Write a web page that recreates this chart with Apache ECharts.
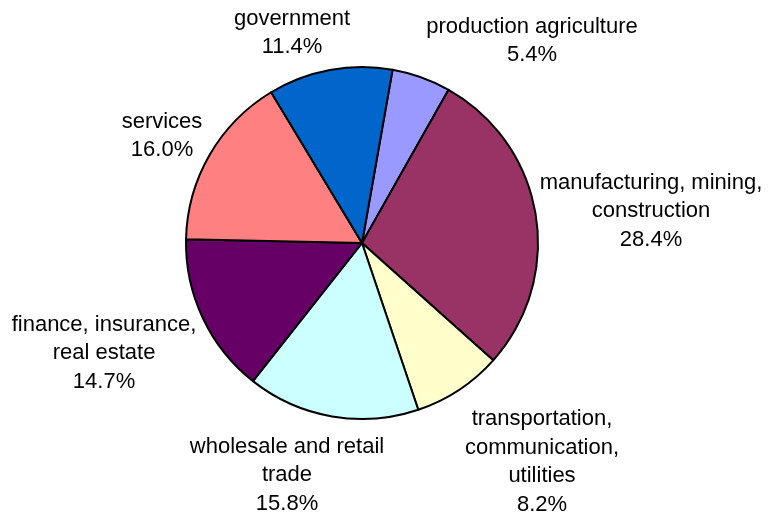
<!DOCTYPE html>
<html>
<head>
<meta charset="utf-8">
<script src="https://cdn.jsdelivr.net/npm/echarts@6/dist/echarts.min.js"></script>
<style>
  html, body { margin: 0; padding: 0; background: #fff; }
  #chart { width: 768px; height: 517px; }
</style>
</head>
<body>
<div id="chart"></div>
<script>
// Sector names (with the line breaks used in their labels) and shares in percent
var sectors = [
  'production agriculture',
  'manufacturing, mining,\nconstruction',
  'transportation,\ncommunication,\nutilities',
  'wholesale and retail\ntrade',
  'finance, insurance,\nreal estate',
  'services',
  'government'
];
var shares = [5.4, 28.4, 8.2, 15.8, 14.7, 16.0, 11.4];

// Slice fills, in the same order as the sectors
var sliceColors = ['#9999FF', '#993366', '#FFFFCC', '#CCFFFF', '#660066', '#FF8080', '#0066CC'];

// Label block centres, as offsets from the pie centre (px)
var pieCenter = [362, 243];
var labelOffsets = [
  [170, -202],
  [289, -32],
  [180, 219],
  [-75, 232],
  [-258, 110],
  [-200, -107],
  [-70, -210]
];

var chart = echarts.init(document.getElementById('chart'), null, { renderer: 'canvas' });

chart.setOption({
  backgroundColor: '#ffffff',
  animation: false,
  series: [{
    type: 'pie',
    center: pieCenter,
    radius: [0, 176],
    startAngle: 80,
    clockwise: true,
    silent: true,
    data: sectors.map(function (name, i) {
      return { name: name, value: shares[i], itemStyle: { color: sliceColors[i] } };
    }),
    itemStyle: { borderColor: '#000000', borderWidth: 2 },
    label: {
      show: true,
      position: 'outside',
      color: '#000000',
      fontFamily: '"Liberation Sans", Arial, sans-serif',
      fontSize: 22,
      lineHeight: 28.5,
      align: 'center',
      overflow: 'none',
      edgeDistance: 0,
      bleedMargin: 0,
      formatter: function (p) {
        return p.name + '\n' + p.value.toFixed(1) + '%';
      }
    },
    labelLine: { show: false },
    labelLayout: function (params) {
      var off = labelOffsets[params.dataIndex];
      return {
        x: pieCenter[0] + off[0],
        y: pieCenter[1] + off[1],
        align: 'center',
        verticalAlign: 'middle',
        hideOverlap: false
      };
    }
  }]
});
</script>
</body>
</html>
